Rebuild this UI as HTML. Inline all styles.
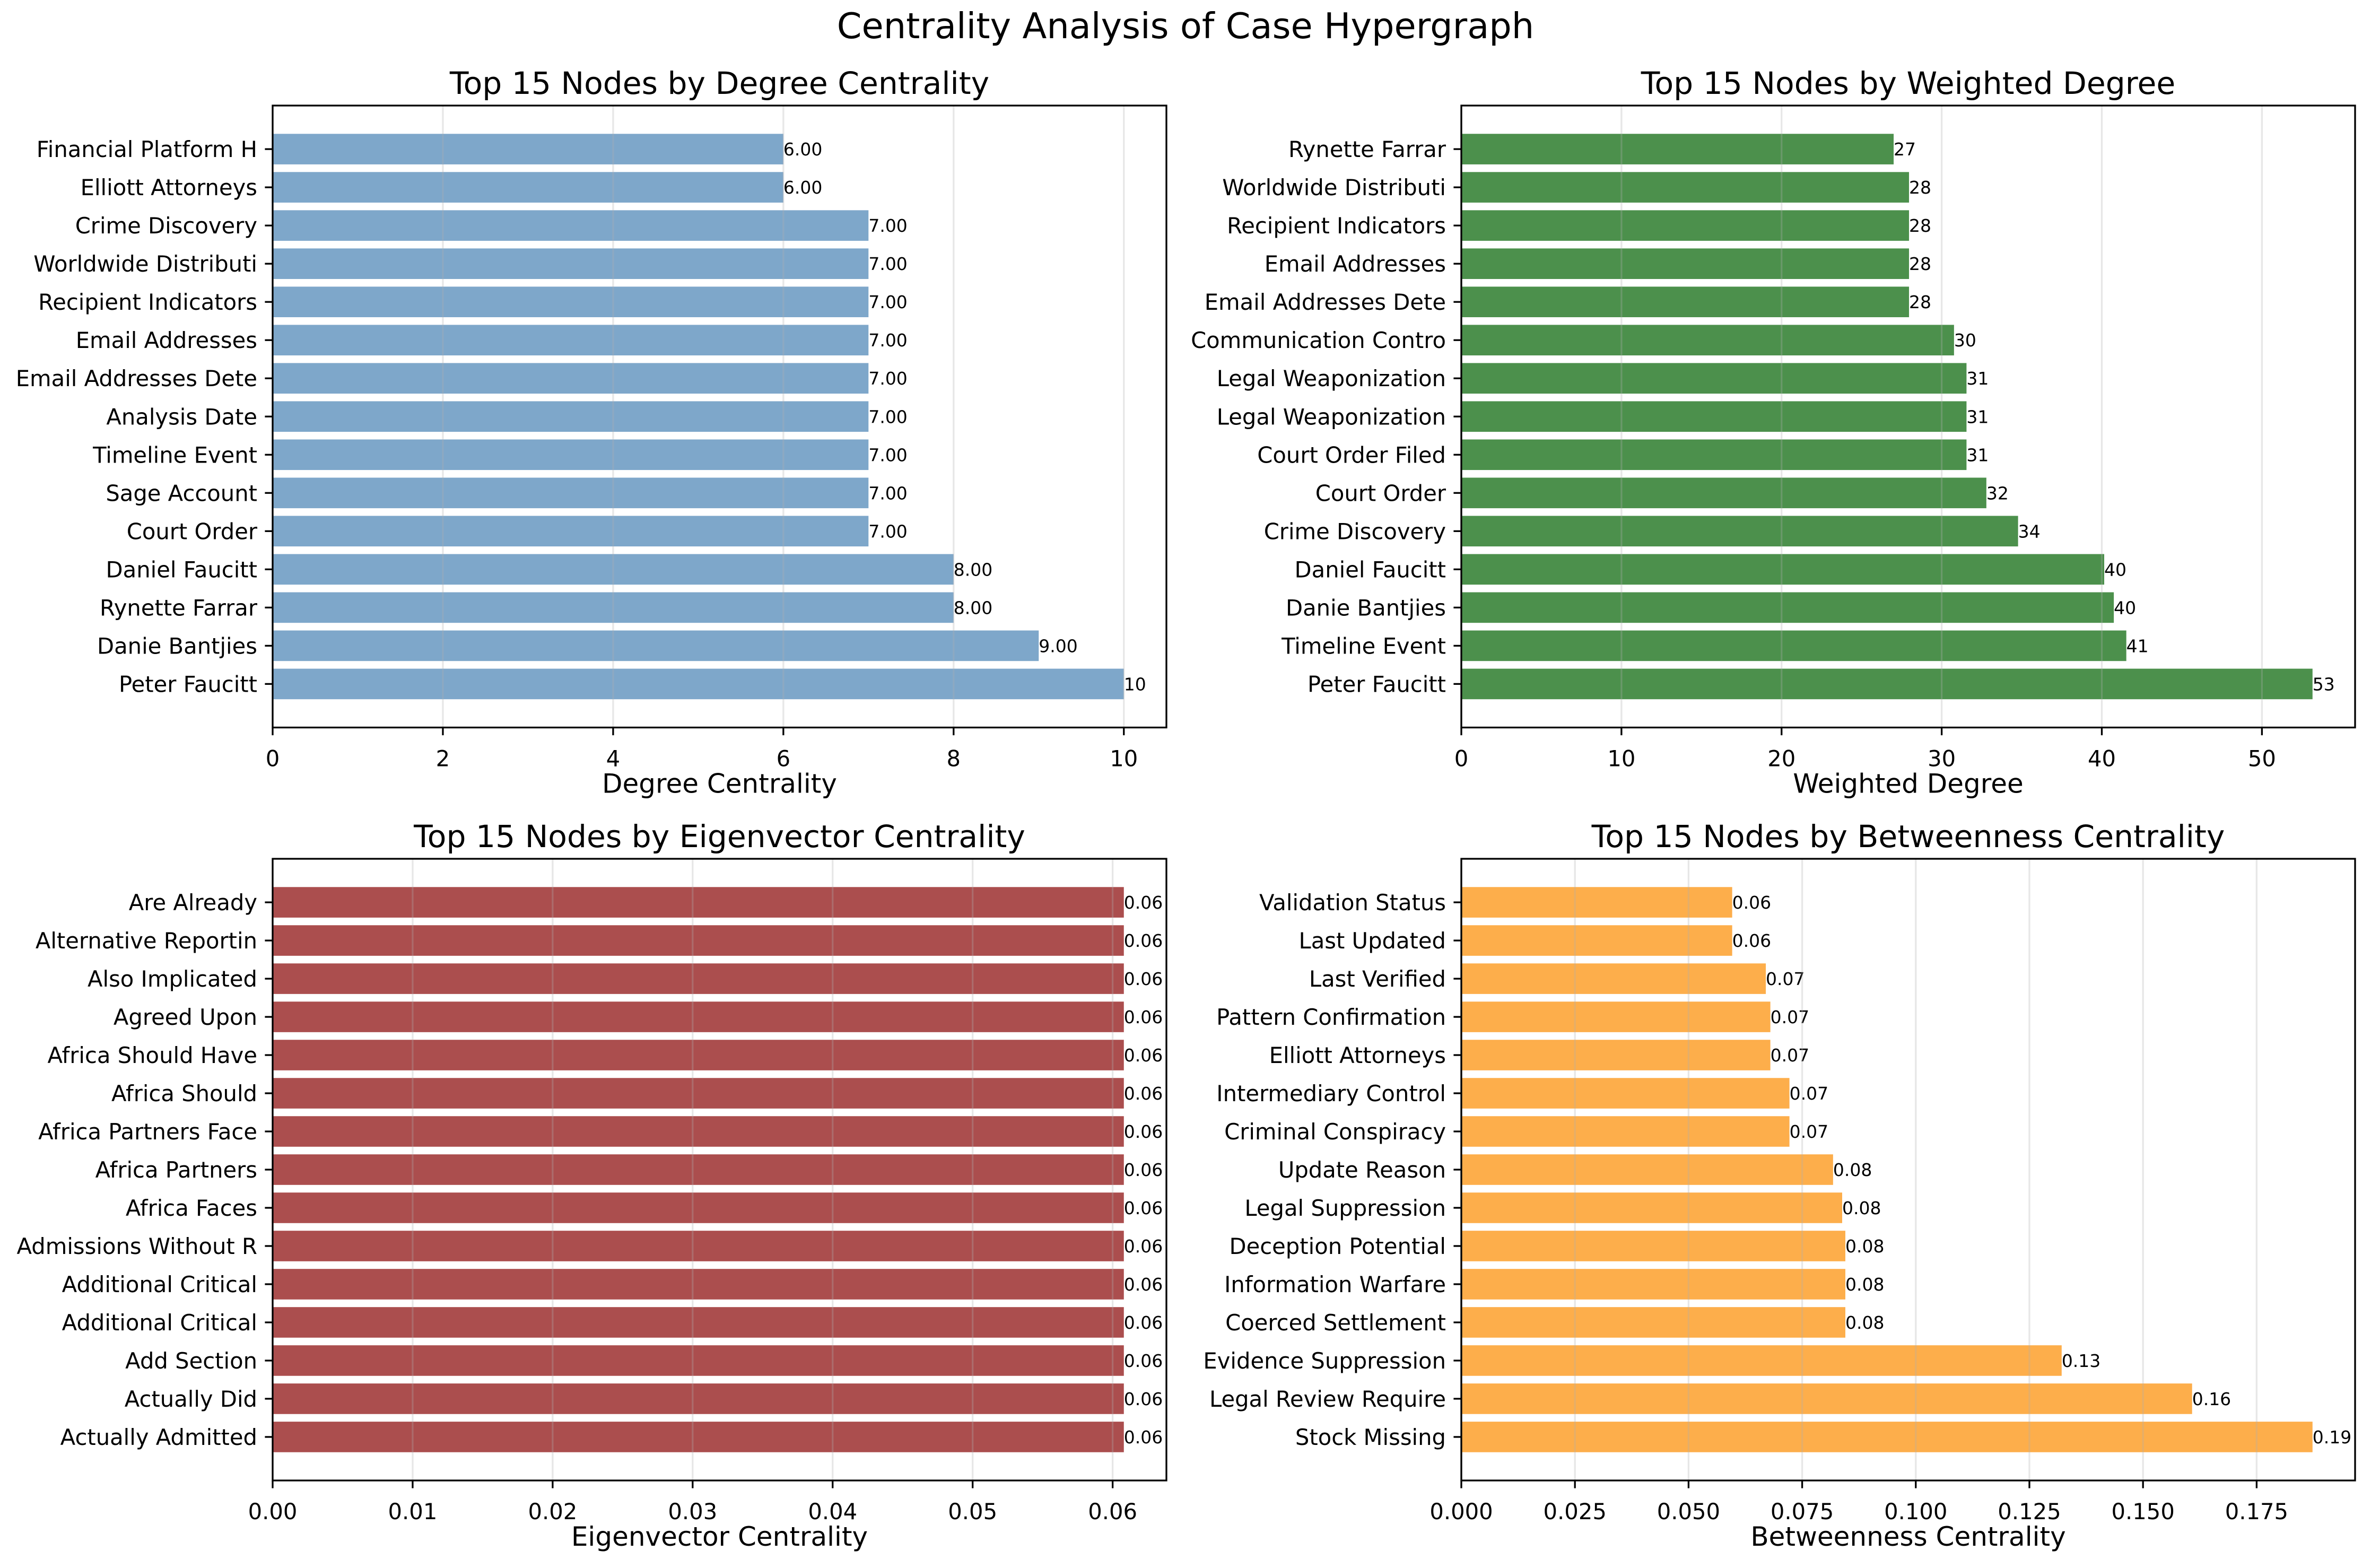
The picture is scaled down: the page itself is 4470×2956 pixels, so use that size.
<!DOCTYPE html>
<html><head><meta charset="utf-8"><style>
html,body{margin:0;padding:0;background:#fff}
svg{display:block}
text{font-family:"DejaVu Sans","Liberation Sans",sans-serif;fill:#000}
</style></head><body>
<svg id="fig" width="4470" height="2956" viewBox="0 0 4470 2956" xmlns="http://www.w3.org/2000/svg">
<rect width="4470" height="2956" fill="#fff"/>
<text x="2235" y="72" font-size="67" text-anchor="middle">Centrality Analysis of Case Hypergraph</text>
</svg>
<script>
const degreeNodes = ["Financial Platform H","Elliott Attorneys","Crime Discovery","Worldwide Distributi","Recipient Indicators","Email Addresses","Email Addresses Dete","Analysis Date","Timeline Event","Sage Account","Court Order","Daniel Faucitt","Rynette Farrar","Danie Bantjies","Peter Faucitt"];
const degreeValues = [6,6,7,7,7,7,7,7,7,7,7,8,8,9,10];
const degreeLabels = ["6.00","6.00","7.00","7.00","7.00","7.00","7.00","7.00","7.00","7.00","7.00","8.00","8.00","9.00","10"];
const degreeTicks = [0,2,4,6,8,10];
const degreeTickLabels = ["0","2","4","6","8","10"];

const weightedNodes = ["Rynette Farrar","Worldwide Distributi","Recipient Indicators","Email Addresses","Email Addresses Dete","Communication Contro","Legal Weaponization","Legal Weaponization ","Court Order Filed","Court Order","Crime Discovery","Daniel Faucitt","Danie Bantjies","Timeline Event","Peter Faucitt"];
const weightedValues = [27.0,27.96,27.96,27.96,27.96,30.77,31.55,31.55,31.55,32.79,34.77,40.15,40.75,41.53,53.16];
const weightedLabels = ["27","28","28","28","28","30","31","31","31","32","34","40","40","41","53"];
const weightedTicks = [0,10,20,30,40,50];
const weightedTickLabels = ["0","10","20","30","40","50"];

const eigenNodes = ["Are Already","Alternative Reportin","Also Implicated","Agreed Upon","Africa Should Have","Africa Should","Africa Partners Face","Africa Partners","Africa Faces","Admissions Without R","Additional Critical ","Additional Critical","Add Section","Actually Did","Actually Admitted"];
const eigenValues = [0.0608,0.0608,0.0608,0.0608,0.0608,0.0608,0.0608,0.0608,0.0608,0.0608,0.0608,0.0608,0.0608,0.0608,0.0608];
const eigenLabels = ["0.06","0.06","0.06","0.06","0.06","0.06","0.06","0.06","0.06","0.06","0.06","0.06","0.06","0.06","0.06"];
const eigenTicks = [0,0.01,0.02,0.03,0.04,0.05,0.06];
const eigenTickLabels = ["0.00","0.01","0.02","0.03","0.04","0.05","0.06"];

const betweenNodes = ["Validation Status","Last Updated","Last Verified","Pattern Confirmation","Elliott Attorneys","Intermediary Control","Criminal Conspiracy","Update Reason","Legal Suppression","Deception Potential","Information Warfare","Coerced Settlement","Evidence Suppression","Legal Review Require","Stock Missing"];
const betweenValues = [0.0596,0.0596,0.0670,0.0680,0.0680,0.0722,0.0722,0.0818,0.0838,0.0845,0.0845,0.0845,0.1321,0.1608,0.1873];
const betweenLabels = ["0.06","0.06","0.07","0.07","0.07","0.07","0.07","0.08","0.08","0.08","0.08","0.08","0.13","0.16","0.19"];
const betweenTicks = [0,0.025,0.05,0.075,0.1,0.125,0.15,0.175];
const betweenTickLabels = ["0.000","0.025","0.050","0.075","0.100","0.125","0.150","0.175"];

const NS = "http://www.w3.org/2000/svg";
const fig = document.getElementById('fig');
function mk(tag, attrs, parent){
  const e = document.createElementNS(NS, tag);
  for (const k in attrs) e.setAttribute(k, attrs[k]);
  (parent||fig).appendChild(e);
  return e;
}
function panel(key, box, title, xlabel, nodes, values, labels, ticks, tickLabels, color){
  const g = mk('g', {});
  
  
  const L = box[0], T = box[1], R = box[2], B = box[3];
  const n = nodes.length;
  const xmax = Math.max(...values) * 1.05;
  const ylo = -0.4 - 0.74, yhi = (n - 1) + 0.4 + 0.74;
  const xs = v => L + v / xmax * (R - L);
  const ys = i => B - (i - ylo) / (yhi - ylo) * (B - T);   // i=0 at bottom
  const bh = 0.8 / (yhi - ylo) * (B - T);
  // bars: first entry at top
  for (let k = 0; k < n; k++){
    const i = n - 1 - k;
    const cy = ys(i);
    const r = mk('rect', {x: xs(0), y: cy - bh/2, width: xs(values[k]) - xs(0), height: bh, fill: color}, g);
    
    
    const t = mk('text', {x: xs(values[k]), y: cy + 12, 'font-size': 33}, g);
    
    
    t.textContent = labels[k];
    const tk = mk('line', {x1: L - 14.6, x2: L, y1: cy, y2: cy, stroke: '#000', 'stroke-width': 3.3}, g);
    
    
    const yl = mk('text', {x: L - 29, y: cy + 15, 'font-size': 41.7, 'text-anchor': 'end'}, g);
    
    
    yl.setAttribute('xml:space', 'preserve');
    yl.textContent = nodes[k];
  }
  // grid + x ticks
  for (let j = 0; j < ticks.length; j++){
    const x = xs(ticks[j]);
    const gl = mk('line', {x1: x, x2: x, y1: T, y2: B, stroke: '#b0b0b0', 'stroke-opacity': 0.3, 'stroke-width': 3.3}, g);
    
    
    const tk = mk('line', {x1: x, x2: x, y1: B, y2: B + 14.6, stroke: '#000', 'stroke-width': 3.3}, g);
    
    
    const tl = mk('text', {x: x, y: B + 73, 'font-size': 41.7, 'text-anchor': 'middle'}, g);
    
    
    tl.textContent = tickLabels[j];
  }
  const fr = mk('rect', {x: L, y: T, width: R - L, height: B - T, fill: 'none', stroke: '#000', 'stroke-width': 3.3}, g);
  
  
  const tt = mk('text', {x: (L + R)/2, y: T - 22, 'font-size': 58.3, 'text-anchor': 'middle'}, g);
  
  
  tt.textContent = title;
  const xl = mk('text', {x: (L + R)/2, y: B + 123, 'font-size': 50, 'text-anchor': 'middle'}, g);
  
  
  xl.textContent = xlabel;
}
panel('degree', [514, 199, 2199, 1371.5], 'Top 15 Nodes by Degree Centrality', 'Degree Centrality', degreeNodes, degreeValues, degreeLabels, degreeTicks, degreeTickLabels, '#7ea7ca');
panel('weighted', [2755, 199, 4440, 1371.5], 'Top 15 Nodes by Weighted Degree', 'Weighted Degree', weightedNodes, weightedValues, weightedLabels, weightedTicks, weightedTickLabels, '#4c904c');
panel('eigenvector', [514, 1619, 2199, 2791], 'Top 15 Nodes by Eigenvector Centrality', 'Eigenvector Centrality', eigenNodes, eigenValues, eigenLabels, eigenTicks, eigenTickLabels, '#ab4e4e');
panel('betweenness', [2755, 1619, 4440, 2791], 'Top 15 Nodes by Betweenness Centrality', 'Betweenness Centrality', betweenNodes, betweenValues, betweenLabels, betweenTicks, betweenTickLabels, '#fdae4b');
</script>
</body></html>
